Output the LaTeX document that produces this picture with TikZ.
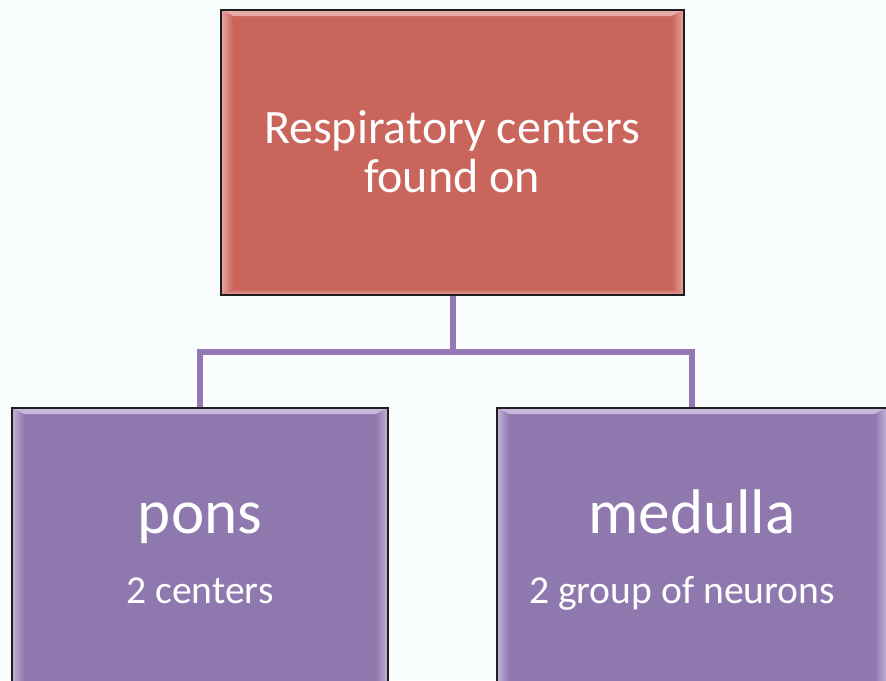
\documentclass[tikz,border=0pt]{standalone}
\usepackage{fontspec}
\setmainfont{Carlito}
\usetikzlibrary{calc}
\definecolor{bgc}{RGB}{248,252,253}
\definecolor{redbase}{RGB}{201,101,91}
\definecolor{redlight}{RGB}{255,222,218}
\definecolor{purbase}{RGB}{143,120,174}
\definecolor{purlight}{RGB}{238,228,250}
\definecolor{conn}{RGB}{146,121,180}
\definecolor{edge}{RGB}{30,30,30}
\tikzset{
  bevel/.style 2 args={
    path picture={
      \path[top color=#2!60!#1, bottom color=#1] let \p1=(path picture bounding box.south west),
                \p2=(path picture bounding box.north east) in
          (\x1,\y2) -- (\x2,\y2) -- (\x2-12pt,\y2-6pt) -- (\x1+12pt,\y2-6pt) -- cycle;
      \path[bottom color=#2!55!#1, top color=#1] let \p1=(path picture bounding box.south west),
                \p2=(path picture bounding box.north east) in
          (\x1,\y1) -- (\x2,\y1) -- (\x2-12pt,\y1+6pt) -- (\x1+12pt,\y1+6pt) -- cycle;
      \path[left color=#2!55!#1, middle color=#2, right color=#1] let \p1=(path picture bounding box.south west),
                \p2=(path picture bounding box.north east) in
          (\x1,\y1) -- (\x1,\y2) -- (\x1+12pt,\y2-6pt) -- (\x1+12pt,\y1+6pt) -- cycle;
      \path[right color=#2!55!#1, middle color=#2, left color=#1] let \p1=(path picture bounding box.south west),
                \p2=(path picture bounding box.north east) in
          (\x2,\y1) -- (\x2,\y2) -- (\x2-12pt,\y2-6pt) -- (\x2-12pt,\y1+6pt) -- cycle;
    }
  },
  boxnode/.style 2 args={rectangle, draw=edge, line width=1.3pt, fill=#1,
    inner sep=0pt, bevel={#1}{#2}},
  txt/.style={text=white, inner sep=0pt, anchor=base},
  link/.style={draw=conn, line width=6pt, line join=miter}
}
\begin{document}
\begin{tikzpicture}[x=1pt,y=-1pt]
\fill[bgc] (0,0) rectangle (886,680);
\useasboundingbox (0,0) rectangle (886,680);
% top box
\node[boxnode={redbase}{redlight}, minimum width=463pt, minimum height=285pt] (top) at (452.5,152.5) {};
\node[txt, font=\fontsize{48}{50}\selectfont] (t1) at (452,143) {Respiratory centers};
\node[txt, font=\fontsize{48}{50}\selectfont] (t2) at (452,192) {found on};
% bottom boxes
\node[boxnode={purbase}{purlight}, minimum width=376pt, minimum height=290pt] (left) at (200,553) {};
\node[boxnode={purbase}{purlight}, minimum width=390pt, minimum height=290pt] (right) at (692,553) {};
\node[txt, font=\fontsize{63}{66}\selectfont] (l1) at (200,533) {pons};
\node[txt, font=\fontsize{39.6}{44}\selectfont] (l2) at (200,603) {2 centers};
\node[txt, font=\fontsize{63}{66}\selectfont] (r1) at (692,533) {medulla};
\node[txt, font=\fontsize{39.6}{44}\selectfont] (r2) at (682,603) {2 group of neurons};
% connectors
\coordinate (mid) at (452.5,352);
\draw[link] (top.south) -- (mid);
\draw[link] (left.north) |- (mid) -| (right.north);
% redraw box edges over connector ends
\draw[edge, line width=1.3pt] (top.south west) -- (top.south east);
\draw[edge, line width=1.3pt] (left.north west) -- (left.north east);
\draw[edge, line width=1.3pt] (right.north west) -- (right.north east);
\end{tikzpicture}
\end{document}
